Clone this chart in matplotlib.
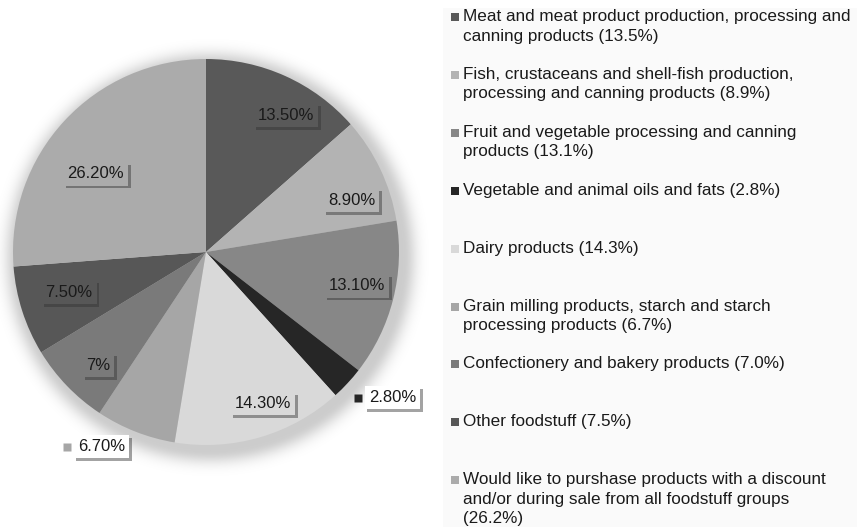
import numpy as np
import matplotlib
matplotlib.use("Agg")
import matplotlib.pyplot as plt
import matplotlib.patheffects as pe
from matplotlib.patches import Rectangle

plt.rcParams['font.family'] = ['Liberation Sans', 'DejaVu Sans']

groups = [
    "Meat and meat product production, processing and\ncanning products (13.5%)",
    "Fish, crustaceans and shell-fish production,\nprocessing and canning products (8.9%)",
    "Fruit and vegetable processing and canning\nproducts (13.1%)",
    "Vegetable and animal oils and fats (2.8%)",
    "Dairy products (14.3%)",
    "Grain milling products, starch and starch\nprocessing products (6.7%)",
    "Confectionery and bakery products (7.0%)",
    "Other foodstuff (7.5%)",
    "Would like to purshase products with a discount\nand/or during sale from all foodstuff groups\n(26.2%)",
]
shares = [13.5, 8.9, 13.1, 2.8, 14.3, 6.7, 7.0, 7.5, 26.2]
share_labels = ["13.50%", "8.90%", "13.10%", "2.80%", "14.30%",
                "6.70%", "7%", "7.50%", "26.20%"]

colors = ["#595959", "#b3b3b3", "#878787", "#262626", "#d9d9d9",
          "#a6a6a6", "#7a7a7a", "#575757", "#ababab"]
outside = [False, False, False, True, False, True, False, False, False]
label_r = [0.82, 0.80, 0.80, 1.09, 0.84, 1.24, 0.81, 0.74, 0.70]
label_nudge = [6.0, 5.8, -1.5, 1.0, -4.2, 14.2, -2.4, 1.5, -7.5]

W, H = 857, 531
fig = plt.figure(figsize=(W / 100, H / 100), dpi=100)

cx, cy, R = 206, 252, 193   # pie centre / radius in pixels

# soft shadow around the pie
yy, xx = np.mgrid[0:H, 0:W]
d = np.hypot(xx - cx - 4, yy - cy - 5) - R
shade = np.where(d < 0, 1.0, np.exp(-(np.maximum(d, 0) / 13.0) ** 2))
img = np.zeros((H, W, 4))
img[..., 3] = 0.2 * shade
fig.figimage(img, 0, 0, origin='upper', zorder=0)

# pale panel behind the legend
fig.patches.append(Rectangle((443 / W, 1 - 527 / H), (W - 443) / W, 519 / H,
                             transform=fig.transFigure, facecolor="#fafafa",
                             edgecolor="none", zorder=0))

AX_W = 430
ax = fig.add_axes([0, 0, AX_W / W, 1])
ax.set_zorder(1)
ax.set_facecolor("none")
ax.pie(shares, colors=colors, startangle=90, counterclock=False,
       radius=1, wedgeprops=dict(linewidth=0))
ax.set_xlim(-cx / R, (AX_W - cx) / R)
ax.set_ylim(-(H - cy) / R, cy / R)
ax.set_aspect('auto')
ax.axis('off')

box_shadow = [pe.withSimplePatchShadow(offset=(2, -2), shadow_rgbFace="#333333",
                                       alpha=0.45)]
start = np.concatenate([[0], np.cumsum(shares)[:-1]])
for i, lab in enumerate(share_labels):
    ang = (start[i] + shares[i] / 2) * 3.6 + label_nudge[i]
    x = label_r[i] * np.sin(np.radians(ang))
    y = label_r[i] * np.cos(np.radians(ang))
    if outside[i]:
        ax.plot(x, y, marker='s', ms=6, color=colors[i], mec='none')
        t = ax.annotate(lab, (x, y), xytext=(8, 0), textcoords='offset points',
                        ha='left', va='center', fontsize=12, color="#1a1a1a",
                        bbox=dict(boxstyle="square,pad=0.25", fc="white", ec="none"))
    else:
        t = ax.text(x, y, lab, ha='center', va='center', fontsize=12,
                    color="#1a1a1a",
                    bbox=dict(boxstyle="square,pad=0.25", fc=colors[i], ec="none"))
    t.get_bbox_patch().set_path_effects(box_shadow)

# legend, one entry every ~58 px
for i, g in enumerate(groups):
    yc = 17 + i * 57.9
    fig.patches.append(Rectangle((451 / W, 1 - (yc + 4) / H), 8 / W, 8 / H,
                                 transform=fig.transFigure, facecolor=colors[i],
                                 edgecolor="none", zorder=2))
    fig.text(463 / W, 1 - (yc - 8) / H, g, ha='left', va='top',
             fontsize=12.3, color="#1a1a1a", linespacing=1.38)

fig.savefig("out.png", dpi=100)
